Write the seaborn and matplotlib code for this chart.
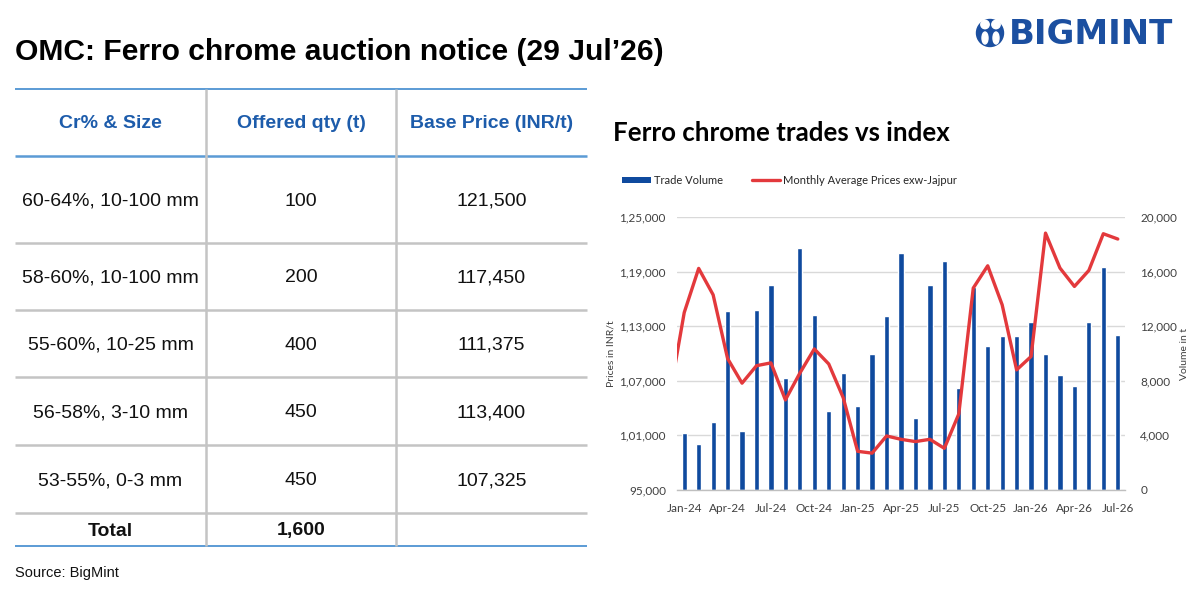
import numpy as np
import pandas as pd
import matplotlib
matplotlib.use("Agg")
import matplotlib.pyplot as plt
import seaborn as sns
from matplotlib.lines import Line2D
from matplotlib.patches import Patch, Circle, Ellipse
from matplotlib.ticker import FuncFormatter, FixedLocator

# ---------------- data ----------------
table_cols = ["Cr% & Size", "Offered qty (t)", "Base Price (INR/t)"]
grades = ["60-64%, 10-100 mm", "58-60%, 10-100 mm", "55-60%, 10-25 mm",
          "56-58%, 3-10 mm", "53-55%, 0-3 mm"]
offered_qty = [100, 200, 400, 450, 450]
base_price = [121500, 117450, 111375, 113400, 107325]
total_qty = 1600

months = ["Jan-24", "Feb-24", "Mar-24", "Apr-24", "May-24", "Jun-24", "Jul-24",
          "Aug-24", "Sep-24", "Oct-24", "Nov-24", "Dec-24", "Jan-25", "Feb-25",
          "Mar-25", "Apr-25", "May-25", "Jun-25", "Jul-25", "Aug-25", "Sep-25",
          "Oct-25", "Nov-25", "Dec-25", "Jan-26", "Feb-26", "Mar-26", "Apr-26",
          "May-26", "Jun-26", "Jul-26"]
trade_volume = [4150, 3400, 5000, 13150, 4300, 13180, 15000, 8170, 17700, 12840,
                5770, 8560, 6140, 9930, 12740, 17360, 5260, 15000, 16770, 7500,
                14870, 10560, 11250, 11250, 12300, 10000, 8410, 7600, 12300,
                16360, 11390]
avg_price = [114500, 119350, 116450, 109450, 106740, 108660, 108970, 104900,
             107840, 110500, 108850, 105150, 99250, 99050, 100940, 100570,
             100320, 100570, 99580, 103360, 117190, 119640, 115350, 108200,
             109670, 123230, 119390, 117370, 119130, 123160, 122580]
prev_month_price = 105400  # Dec-23, only partly visible at the left edge
tick_months = months[::3]
price_ticks = [95000, 101000, 107000, 113000, 119000, 125000]
volume_ticks = [0, 4000, 8000, 12000, 16000, 20000]

W, H = 1198, 590
BLUE_BAR = "#0F4A9E"
RED = "#E3393C"
HDR_BLUE = "#1D5CAB"
LINE_BLUE = "#5B9BD5"
GRAY = "#C4C4C4"

sns.set_theme(style="white")
plt.rcParams["font.family"] = ["Liberation Sans", "DejaVu Sans"]

fig = plt.figure(figsize=(W / 100, H / 100), dpi=100)

# pixel-coordinate background axes
bg = fig.add_axes([0, 0, 1, 1])
bg.set_xlim(0, W)
bg.set_ylim(H, 0)
bg.axis("off")

# title
bg.text(15, 52, "OMC: Ferro chrome auction notice (29 Jul\u201926)", fontsize=21.6,
        fontweight="bold", color="black", ha="left", va="center")

# table
x0, x1, x2, x3 = 15, 206, 396, 587
y_top, y_hdr = 89, 156
row_lines = [243, 310, 377, 445, 513]
y_bot = 546
col_centers = [(x0 + x1) / 2, (x1 + x2) / 2, (x2 + x3) / 2]
bg.plot([x0, x3], [y_top, y_top], color=LINE_BLUE, lw=1.4, solid_capstyle="butt")
bg.plot([x0, x3], [y_hdr, y_hdr], color=LINE_BLUE, lw=1.8, solid_capstyle="butt")
for yl in row_lines:
    bg.plot([x0, x3], [yl, yl], color=GRAY, lw=1.8, solid_capstyle="butt")
bg.plot([x0, x3], [y_bot, y_bot], color=LINE_BLUE, lw=1.4, solid_capstyle="butt")
for xl in (x1, x2):
    bg.plot([xl, xl], [y_top, y_bot], color=GRAY, lw=1.8, solid_capstyle="butt")

for cx, lab in zip(col_centers, table_cols):
    bg.text(cx, (y_top + y_hdr) / 2 + 1.5, lab, fontsize=14, fontweight="bold",
            color=HDR_BLUE, ha="center", va="center")
row_bounds = [y_hdr] + row_lines
for i, (g, q, p) in enumerate(zip(grades, offered_qty, base_price)):
    cy = (row_bounds[i] + row_bounds[i + 1]) / 2 + 1.5
    bg.text(col_centers[0], cy, g, fontsize=14, color="#111111", ha="center", va="center")
    bg.text(col_centers[1], cy, f"{q:,}", fontsize=14, color="#111111", ha="center", va="center")
    bg.text(col_centers[2], cy, f"{p:,}", fontsize=14, color="#111111", ha="center", va="center")
cy = (row_lines[-1] + y_bot) / 2 + 1.5
bg.text(col_centers[0], cy, "Total", fontsize=14, fontweight="bold", color="#111111",
        ha="center", va="center")
bg.text(col_centers[1], cy, f"{total_qty:,}", fontsize=14, fontweight="bold",
        color="#111111", ha="center", va="center")

bg.text(15, 573, "Source: BigMint", fontsize=10.5, color="#111111", ha="left", va="center")

# logo
bg.add_patch(Circle((990, 33), 13.5, color="#1B4FA0"))
bg.add_patch(Circle((985, 24.5), 4.2, color="white"))
bg.add_patch(Circle((996, 24.5), 4.2, color="white"))
bg.add_patch(Ellipse((985, 38), 6, 12, color="white"))
bg.add_patch(Ellipse((996, 38), 6, 12, color="white"))
bg.text(1009, 35, "BIGMINT", fontsize=24.5, fontweight="bold", color="#1B4FA0",
        ha="left", va="center", family=["DejaVu Sans"])

# chart title
bg.text(613, 133, "Ferro chrome trades vs index", fontsize=18.6, fontweight="bold",
        color="black", ha="left", va="center", family=["Lato", "DejaVu Sans"])

# ---------------- chart ----------------
L, R, T, B = 677, 1125, 217, 490
ax = fig.add_axes([L / W, 1 - B / H, (R - L) / W, (B - T) / H])
ax2 = ax.twinx()

pos = np.arange(len(months))
vol_df = pd.DataFrame({"pos": pos, "volume": trade_volume})
sns.barplot(data=vol_df, x="pos", y="volume", ax=ax2, color=BLUE_BAR,
            saturation=1, width=0.36, zorder=2)

line_x = np.concatenate([[-1], pos])
line_y = [prev_month_price] + avg_price
price_df = pd.DataFrame({"pos": line_x, "price": line_y})
sns.lineplot(data=price_df, x="pos", y="price", ax=ax, color=RED, lw=2.4,
             zorder=5)

ax.set_zorder(ax2.get_zorder() + 1)
ax.patch.set_visible(False)

ax.set_xlim(-0.5, len(months) - 0.5)
ax.set_ylim(price_ticks[0], price_ticks[-1])
ax2.set_ylim(volume_ticks[0], volume_ticks[-1])


def indian(v, _=None):
    s = str(int(round(v)))
    if len(s) <= 3:
        return s
    last3, rest = s[-3:], s[:-3]
    groups = []
    while len(rest) > 2:
        groups.insert(0, rest[-2:])
        rest = rest[:-2]
    if rest:
        groups.insert(0, rest)
    return ",".join(groups + [last3])


ax.yaxis.set_major_locator(FixedLocator(price_ticks))
ax.yaxis.set_major_formatter(FuncFormatter(indian))
ax2.yaxis.set_major_locator(FixedLocator(volume_ticks))
ax2.yaxis.set_major_formatter(FuncFormatter(lambda v, _: f"{int(v):,}"))

ax2.grid(axis="y", color="#D9D9D9", lw=1.0, zorder=0)
ax2.set_axisbelow(True)
ax.grid(False)

tick_font = dict(family=["Lato", "DejaVu Sans"], size=8.5)
tick_color = "#404040"
# x ticks: labels centred on categories, marks at category boundaries
ax.set_xticks(pos[::3])
ax.set_xticklabels(tick_months, color=tick_color, fontdict=tick_font)
ax.tick_params(axis="x", which="major", length=0, pad=9, labelbottom=True)
ax.set_xticks(np.arange(-0.5, len(months), 3), minor=True)
ax.tick_params(axis="x", which="minor", length=4, width=1, color="#BFBFBF",
               direction="out")
ax2.tick_params(axis="x", which="both", labelbottom=False, bottom=False)

for lab in ax.get_yticklabels():
    lab.set_fontfamily(["Lato", "DejaVu Sans"])
    lab.set_fontsize(8.5)
    lab.set_color(tick_color)
for lab in ax2.get_yticklabels():
    lab.set_fontfamily(["Lato", "DejaVu Sans"])
    lab.set_fontsize(8.5)
    lab.set_color(tick_color)
ax.tick_params(axis="y", length=0, pad=8)
ax2.tick_params(axis="y", length=0, pad=11)

ax.set_xlabel("")
ax2.set_xlabel("")
ax.set_ylabel("Prices in INR/t", fontsize=7.5, color=tick_color,
              family=["Lato", "DejaVu Sans"], labelpad=3)
ax2.set_ylabel("Volume in t", fontsize=7.5, color=tick_color,
               family=["Lato", "DejaVu Sans"], labelpad=2)

for a in (ax, ax2):
    for side in ("top", "left", "right"):
        a.spines[side].set_visible(False)
    a.spines["bottom"].set_color("#BFBFBF")
    a.spines["bottom"].set_linewidth(1)
ax2.spines["bottom"].set_visible(False)

handles = [Patch(facecolor=BLUE_BAR, edgecolor="none"),
           Line2D([0], [0], color=RED, lw=2.4)]
labels = ["Trade Volume", "Monthly Average Prices exw-Jajpur"]
fig.legend(handles, labels, loc="center left",
           bbox_to_anchor=(612 / W, 1 - 180 / H), ncol=2, frameon=False,
           prop={"family": ["Lato", "DejaVu Sans"], "size": 8},
           handlelength=2.6, handleheight=0.45, handletextpad=0.25,
           columnspacing=2.6, labelcolor="#262626")

fig.savefig("out.png", dpi=100, facecolor="white")
